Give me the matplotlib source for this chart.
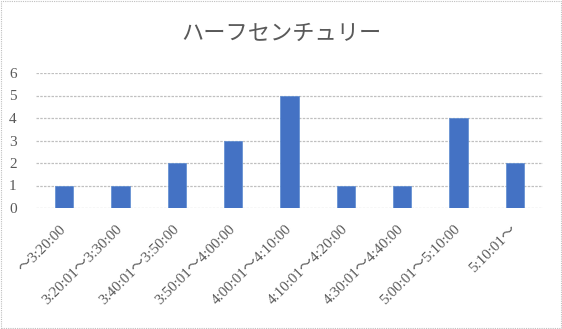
import matplotlib.pyplot as plt
from matplotlib.patches import Rectangle

# data
categories = ['～3:20:00', '3:20:01～3:30:00', '3:40:01～3:50:00', '3:50:01～4:00:00',
              '4:00:01～4:10:00', '4:10:01～4:20:00', '4:30:01～4:40:00',
              '5:00:01～5:10:00', '5:10:01～']
counts = [1, 1, 2, 3, 5, 1, 1, 4, 2]
yticks = [0, 1, 2, 3, 4, 5, 6]

fonts = ['Liberation Serif', 'Noto Sans CJK JP', 'DejaVu Sans']
plt.rcParams['font.family'] = fonts

fig = plt.figure(figsize=(5.62, 3.29), dpi=100)
ax = fig.add_axes([36/562, 1-208/329, (543-36)/562, (208-73)/329])

x = range(len(categories))
ax.bar(x, counts, width=0.32, color='#4472C4', edgecolor='#5b8bd0', linewidth=0.5, zorder=3)

ax.set_xlim(-0.5, len(categories)-0.5)
ax.set_ylim(0, 6)
ax.set_yticks(yticks)
ax.set_yticklabels([str(v) for v in yticks], fontsize=11, color='#595959')
ax.set_xticks(list(x))
ax.set_xticklabels(categories, rotation=45, ha='right', va='center', rotation_mode='anchor',
                   fontsize=10.8, color='#595959')
ax.tick_params(axis='both', length=0)
ax.tick_params(axis='y', pad=14)
ax.tick_params(axis='x', pad=14)
ax.yaxis.grid(True, linestyle=(0, (2, 1)), color='#c0c0c0', linewidth=0.9, zorder=0)
for s in ax.spines.values():
    s.set_visible(False)

fig.text(0.5, 1-33/329, 'ハーフセンチュリー', ha='center', va='center',
         fontsize=16, color='#595959', family=['Noto Sans CJK JP', 'DejaVu Sans'])

# chart border
fig.patches.append(Rectangle((0.002, 0.003), 0.996, 0.994, transform=fig.transFigure,
                             fill=False, edgecolor='#bfbfbf', linestyle=(0, (1, 1)), linewidth=0.8))

fig.savefig('out.png', dpi=100)
